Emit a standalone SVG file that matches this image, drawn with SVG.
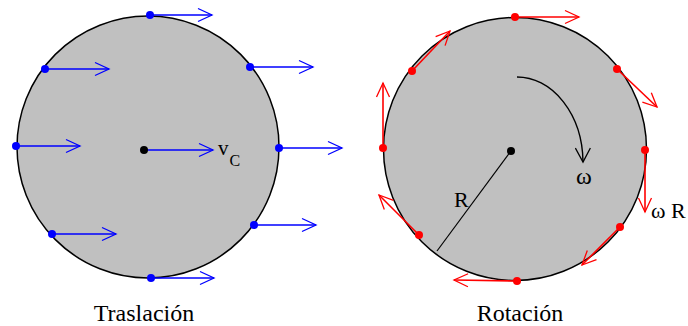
<svg xmlns="http://www.w3.org/2000/svg" width="688" height="326" viewBox="0 0 688 326">
<style>
.disk{fill:#C0C0C0;stroke:#000;stroke-width:1.5}
.blue{stroke:#0000FF;stroke-width:1.6;fill:none}
.red{stroke:#FF0000;stroke-width:1.6;fill:none}
.bdot{fill:#0000FF}
.rdot{fill:#FF0000}
.lbl{font-family:"Liberation Serif","Times New Roman",serif;fill:#000}
</style>
<defs>
<marker id="ab" viewBox="-16 -8 18 16" refX="0" refY="0" markerWidth="18" markerHeight="16" markerUnits="userSpaceOnUse" orient="auto">
<path d="M-14,-6.5 L0,0 L-14,6.5" fill="none" stroke="#0000FF" stroke-width="1.3"/>
</marker>
<marker id="ar" viewBox="-16 -8 18 16" refX="0" refY="0" markerWidth="18" markerHeight="16" markerUnits="userSpaceOnUse" orient="auto">
<path d="M-14,-6.5 L0,0 L-14,6.5" fill="none" stroke="#FF0000" stroke-width="1.3"/>
</marker>
<marker id="ak" viewBox="-16 -8 18 16" refX="0" refY="0" markerWidth="18" markerHeight="16" markerUnits="userSpaceOnUse" orient="auto">
<path d="M-14,-7.5 L0,0 L-14,7.5" fill="none" stroke="#000" stroke-width="1.3"/>
</marker>
</defs>

<g id="traslacion">
<circle class="disk" cx="148" cy="147" r="131"/>
<g id="traslacion-arrows">
<line class="blue" x1="150" y1="15" x2="212" y2="15" marker-end="url(#ab)"/>
<line class="blue" x1="45" y1="69" x2="109" y2="69" marker-end="url(#ab)"/>
<line class="blue" x1="16" y1="146" x2="80" y2="146" marker-end="url(#ab)"/>
<line class="blue" x1="52" y1="234" x2="116" y2="234" marker-end="url(#ab)"/>
<line class="blue" x1="151" y1="278" x2="214" y2="278" marker-end="url(#ab)"/>
<line class="blue" x1="254" y1="225" x2="316" y2="225" marker-end="url(#ab)"/>
<line class="blue" x1="279" y1="148" x2="342" y2="148" marker-end="url(#ab)"/>
<line class="blue" x1="250" y1="67" x2="313" y2="67" marker-end="url(#ab)"/>
<line class="blue" x1="144" y1="150" x2="213" y2="150" marker-end="url(#ab)"/>
</g>
<g id="traslacion-dots">
<circle class="bdot" cx="150" cy="15" r="4"/>
<circle class="bdot" cx="45" cy="69" r="4"/>
<circle class="bdot" cx="16" cy="146" r="4"/>
<circle class="bdot" cx="52" cy="234" r="4"/>
<circle class="bdot" cx="151" cy="278" r="4"/>
<circle class="bdot" cx="254" cy="225" r="4"/>
<circle class="bdot" cx="279" cy="148" r="4"/>
<circle class="bdot" cx="250" cy="67" r="4"/>
<circle cx="144" cy="150" r="4" fill="#000"/>
</g>
<text class="lbl" x="218" y="155" font-size="21">v</text>
<text class="lbl" x="229.5" y="166" font-size="16">C</text>
<text class="lbl" x="144" y="321" font-size="24" text-anchor="middle">Traslación</text>
</g>

<g id="rotacion">
<circle class="disk" cx="515" cy="149" r="131.5"/>
<line x1="511" y1="151" x2="437" y2="251" stroke="#000" stroke-width="1.2"/>
<path d="M517,77 A66,86 0 0 1 583,162" fill="none" stroke="#000" stroke-width="1.4" marker-end="url(#ak)"/>
<g id="rotacion-arrows">
<line class="red" x1="515" y1="17" x2="579" y2="17" marker-end="url(#ar)"/>
<line class="red" x1="617" y1="69" x2="657" y2="107" marker-end="url(#ar)"/>
<line class="red" x1="645" y1="150" x2="645" y2="212" marker-end="url(#ar)"/>
<line class="red" x1="620" y1="227" x2="582" y2="265" marker-end="url(#ar)"/>
<line class="red" x1="517" y1="281" x2="454" y2="280" marker-end="url(#ar)"/>
<line class="red" x1="419" y1="235" x2="379" y2="195" marker-end="url(#ar)"/>
<line class="red" x1="383" y1="148" x2="383" y2="83" marker-end="url(#ar)"/>
<line class="red" x1="412" y1="71" x2="450" y2="31" marker-end="url(#ar)"/>
</g>
<g id="rotacion-dots">
<circle class="rdot" cx="515" cy="17" r="4"/>
<circle class="rdot" cx="617" cy="69" r="4"/>
<circle class="rdot" cx="645" cy="150" r="4"/>
<circle class="rdot" cx="620" cy="227" r="4"/>
<circle class="rdot" cx="517" cy="281" r="4"/>
<circle class="rdot" cx="419" cy="235" r="4"/>
<circle class="rdot" cx="383" cy="148" r="4"/>
<circle class="rdot" cx="412" cy="71" r="4"/>
<circle cx="511" cy="151" r="4" fill="#000"/>
</g>
<text class="lbl" x="454" y="207" font-size="22">R</text>
<text class="lbl" x="584" y="184" font-size="24" text-anchor="middle">ω</text>
<text class="lbl" x="651" y="218" font-size="22">ω R</text>
<text class="lbl" x="520" y="321" font-size="24" text-anchor="middle">Rotación</text>
</g>
</svg>
